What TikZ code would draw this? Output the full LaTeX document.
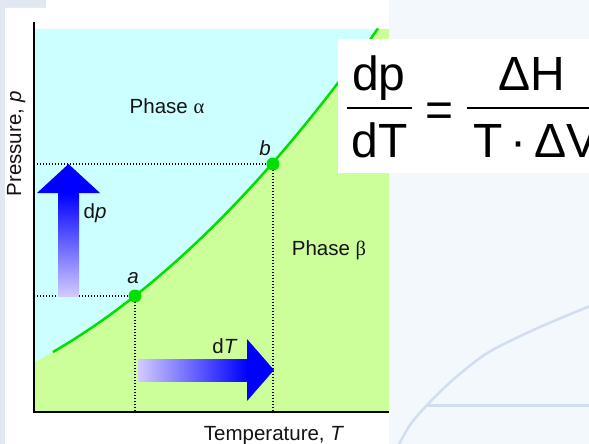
\documentclass[tikz,border=0pt]{standalone}
\usepackage{fontspec}
\setmainfont{Liberation Sans}
\newfontfamily\serifgr{Liberation Serif}
\definecolor{cyanbg}{RGB}{204,255,255}
\definecolor{greenbg}{RGB}{204,255,153}
\definecolor{curvegreen}{RGB}{0,224,0}
\definecolor{lav}{RGB}{210,202,255}
\definecolor{arrowblue}{RGB}{0,0,255}
\definecolor{slidebg}{RGB}{242,248,252}
\definecolor{stripbg}{RGB}{226,232,242}
\definecolor{deco}{RGB}{208,222,240}
\definecolor{txt}{RGB}{20,20,20}
\begin{document}
\begin{tikzpicture}[x=1pt,y=-1pt,
  lbl/.style={font=\fontsize{20.5}{24}\selectfont, text=txt, inner sep=0pt, anchor=base},
  eq/.style={font=\fontsize{48}{56}\selectfont, text=black, inner sep=0pt, anchor=base},
  dotline/.style={black, line width=1.5pt, dash pattern=on 1.4pt off 1.6pt},
  ptmark/.style={circle, fill=curvegreen, minimum size=13pt, inner sep=0pt},
  axisline/.style={black, line width=2pt},
  fracbar/.style={black, line width=2.7pt}]
\useasboundingbox (0,0) rectangle (589,444);
\clip (0,0) rectangle (589,444);
% slide background
\fill[slidebg] (0,0) rectangle (589,444);
\fill[stripbg] (0,0) rectangle (5,444);
\fill[stripbg] (0,0) rectangle (46,8);
\draw[deco, line width=2.5pt] plot[smooth] coordinates {(396,450) (410,425) (429,403) (455,378) (489,352) (540,327) (595,304)};
\draw[deco, line width=3pt] (427,405) -- (595,405);
% figure panel
\fill[white] (5,8) -- (46,8) -- (46,0) -- (389,0) -- (389,444) -- (5,444) -- cycle;
\fill[cyanbg] (34,29) rectangle (389,412);
\fill[greenbg] (34,412) -- plot[domain=34:377,samples=80] (\x,{379.07-0.443*\x-0.001277*\x*\x}) -- (378,29) -- (389,29) -- (389,412) -- cycle;
% coordinates
\coordinate (O) at (34,412);
\coordinate (Ytop) at (34,22);
\coordinate (Xend) at (389,412);
\coordinate (A) at (135,296);
\coordinate (B) at (273,164);
\coordinate (Ay) at (34,296);
\coordinate (By) at (34,164);
\coordinate (Ax) at (135,412);
\coordinate (Bx) at (273,412);
% dotted guide lines
\draw[dotline] (Ay) -- (A);
\draw[dotline] (A) -- (Ax);
\draw[dotline] (By) -- (B);
\draw[dotline] (B) -- (Bx);
% axes
\draw[axisline] (Ytop) -- (O) -- (Xend);
% phase boundary
\draw[curvegreen, line width=2.5pt] plot[domain=53:378,samples=80] (\x,{379.07-0.443*\x-0.001277*\x*\x});
\node[ptmark] (a) at (A) {};
\node[ptmark] (b) at (B) {};
% arrows
\shade[bottom color=lav, top color=arrowblue] (58,296) rectangle (79,193);
\fill[arrowblue] (37,193) -- (68.5,164) -- (100,193) -- cycle;
\shade[left color=lav, right color=arrowblue] (138,359) rectangle (247,381);
\fill[arrowblue] (247,339) -- (274,370) -- (247,401) -- cycle;
% labels
\node[lbl] (pa) at (167,113) {Phase {\serifgr α}};
\node[lbl] (pb) at (329,255) {Phase {\serifgr β}};
\node[lbl] (tx) at (274,440) {Temperature, \textit{T}};
\node[lbl, rotate=90] (py) at (21,144) {Pressure, \textit{p}};
\node[lbl] (la) at (133,283) {\textit{a}};
\node[lbl] (lb) at (265,155) {\textit{b}};
\node[lbl] (ldp) at (95,218) {d\textit{p}};
\node[lbl] (ldT) at (225,353) {d\textit{T}};
% equation
\fill[white] (338,39) rectangle (600,173);
\node[eq] (n1) at (379,90) {dp};
\node[eq] (d1) at (380,157) {dT};
\node[eq] (eqs) at (440,126) {=};
\node[eq] (n2) at (532,90) {ΔH};
\node[eq, anchor=base west] (d2) at (473,157) {T\,·\,ΔV};
\draw[fracbar] (347,108) -- (412,108);
\draw[fracbar] (467,108) -- (600,108);
\end{tikzpicture}
\end{document}
